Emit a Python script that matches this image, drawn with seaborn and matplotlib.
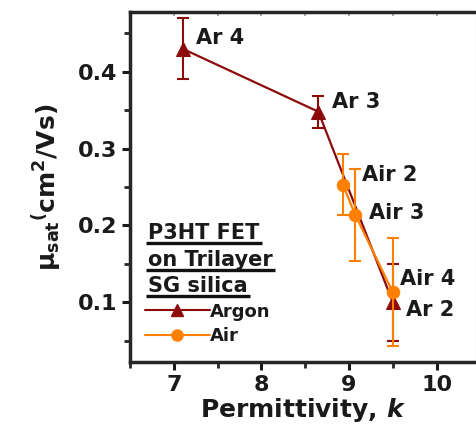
import matplotlib
matplotlib.use("Agg")
import matplotlib.pyplot as plt
import seaborn as sns
import pandas as pd
from matplotlib.lines import Line2D
from matplotlib.ticker import MultipleLocator

# Saturation mobility vs. gate dielectric permittivity
argon_k = [7.1, 8.65, 9.5]
argon_mu = [0.430, 0.348, 0.100]
argon_err = [0.040, 0.021, 0.050]
argon_labels = ["Ar 4", "Ar 3", "Ar 2"]

air_k = [8.93, 9.07, 9.5]
air_mu = [0.253, 0.214, 0.113]
air_err = [0.040, 0.060, 0.070]
air_labels = ["Air 2", "Air 3", "Air 4"]

legend_title = ["P3HT FET", "on Trilayer", "SG silica"]
x_ticks = [7, 8, 9, 10]
y_ticks = [0.1, 0.2, 0.3, 0.4]

ARGON = "#8c0a0a"
AIR = "#ff8000"
INK = "#1a1a1a"

sns.set_style("ticks")
plt.rcParams["font.family"] = ["DejaVu Sans"]
plt.rcParams["font.weight"] = "bold"
plt.rcParams["mathtext.fontset"] = "custom"
plt.rcParams["mathtext.rm"] = "DejaVu Sans:bold"
plt.rcParams["mathtext.it"] = "DejaVu Sans:italic:bold"
plt.rcParams["mathtext.bf"] = "DejaVu Sans:bold"

fig = plt.figure(figsize=(4.77, 4.24), dpi=100)
ax = fig.add_axes([0.2725, 0.146, 0.7255, 0.826])

df_ar = pd.DataFrame({"k": argon_k, "mu": argon_mu})
df_air = pd.DataFrame({"k": air_k, "mu": air_mu})

ax.errorbar(argon_k, argon_mu, yerr=argon_err, fmt="none", ecolor=ARGON,
            elinewidth=1.5, capsize=4, capthick=1.5, zorder=2)
sns.lineplot(data=df_ar, x="k", y="mu", ax=ax, color=ARGON, lw=1.6,
             marker="^", markersize=10, markeredgecolor=ARGON, sort=False,
             zorder=3)
ax.errorbar(air_k, air_mu, yerr=air_err, fmt="none", ecolor=AIR,
            elinewidth=1.5, capsize=4, capthick=1.5, zorder=4)
sns.lineplot(data=df_air, x="k", y="mu", ax=ax, color=AIR, lw=1.6,
             marker="o", markersize=9, markeredgecolor=AIR, sort=False,
             zorder=5)

offsets_ar = [(13, 11), (14, 10), (13, -8)]
for x, y, t, off in zip(argon_k, argon_mu, argon_labels, offsets_ar):
    ax.annotate(t, (x, y), xytext=off, textcoords="offset pixels",
                fontsize=15, fontweight="bold", ha="left", va="center",
                color=INK)
offsets_air = [(19, 10), (14, 2), (7, 13)]
for x, y, t, off in zip(air_k, air_mu, air_labels, offsets_air):
    ax.annotate(t, (x, y), xytext=off, textcoords="offset pixels",
                fontsize=15, fontweight="bold", ha="left", va="center",
                color=INK)

ax.set_xlim(6.5, 10.45)
ax.set_ylim(0.022, 0.478)
ax.set_xticks(x_ticks)
ax.set_yticks(y_ticks)
ax.xaxis.set_minor_locator(MultipleLocator(0.5))
ax.yaxis.set_minor_locator(MultipleLocator(0.05))
ax.set_yticklabels([f"{v:.1f}" for v in y_ticks])
ax.tick_params(axis="both", which="major", length=6, width=2.2,
               labelsize=16, colors=INK, direction="out", pad=3)
ax.tick_params(axis="both", which="minor", length=4, width=2.0,
               direction="out")
for lab in ax.get_xticklabels() + ax.get_yticklabels():
    lab.set_fontweight("bold")
for side in ["left", "bottom", "top"]:
    ax.spines[side].set_linewidth(2.5)
ax.spines["right"].set_linewidth(0.8)
ax.spines["right"].set_color("#bbbbbb")

# faint inward ticks along the top frame
top = ax.secondary_xaxis("top")
top.set_xticks(x_ticks)
top.xaxis.set_minor_locator(MultipleLocator(0.5))
top.tick_params(which="both", direction="in", length=3, width=1.2,
                colors="#999999", labeltop=False)
top.spines["top"].set_visible(False)

ax.set_xlabel(r"Permittivity, $\mathit{k}$", fontsize=18, fontweight="bold",
              color=INK, labelpad=1)
ax.set_ylabel(r"μ$_{\mathrm{sat}}$$^{(}$cm$^{2}$/Vs)", fontsize=18,
              fontweight="bold", color=INK, labelpad=10)

# Legend title block with underlines
tx = 0.052
underline_y = [0.340, 0.263, 0.190]
for txt, y in zip(legend_title, underline_y):
    ax.text(tx, y + 0.011, txt, transform=ax.transAxes, fontsize=15,
            fontweight="bold", color=INK, va="baseline", ha="left")
fig.canvas.draw()
renderer = fig.canvas.get_renderer()
for t, y in zip(ax.texts[-3:], underline_y):
    bb = t.get_window_extent(renderer).transformed(ax.transAxes.inverted())
    ax.plot([bb.x0 - 0.005, bb.x1 + 0.008], [y, y],
            transform=ax.transAxes, color="#111111", lw=2.4,
            solid_capstyle="butt", clip_on=False)

handles = [
    Line2D([], [], color=ARGON, lw=1.5, marker="^", markersize=9),
    Line2D([], [], color=AIR, lw=1.5, marker="o", markersize=8),
]
leg = ax.legend(handles, ["Argon", "Air"], loc="upper left",
                bbox_to_anchor=(0.027, 0.185), frameon=False, fontsize=13,
                handlelength=3.6, handletextpad=0.0, labelspacing=0.35,
                borderaxespad=0.0, borderpad=0.3)
for t in leg.get_texts():
    t.set_fontweight("bold")
    t.set_color(INK)

fig.savefig("out.png", dpi=100)
